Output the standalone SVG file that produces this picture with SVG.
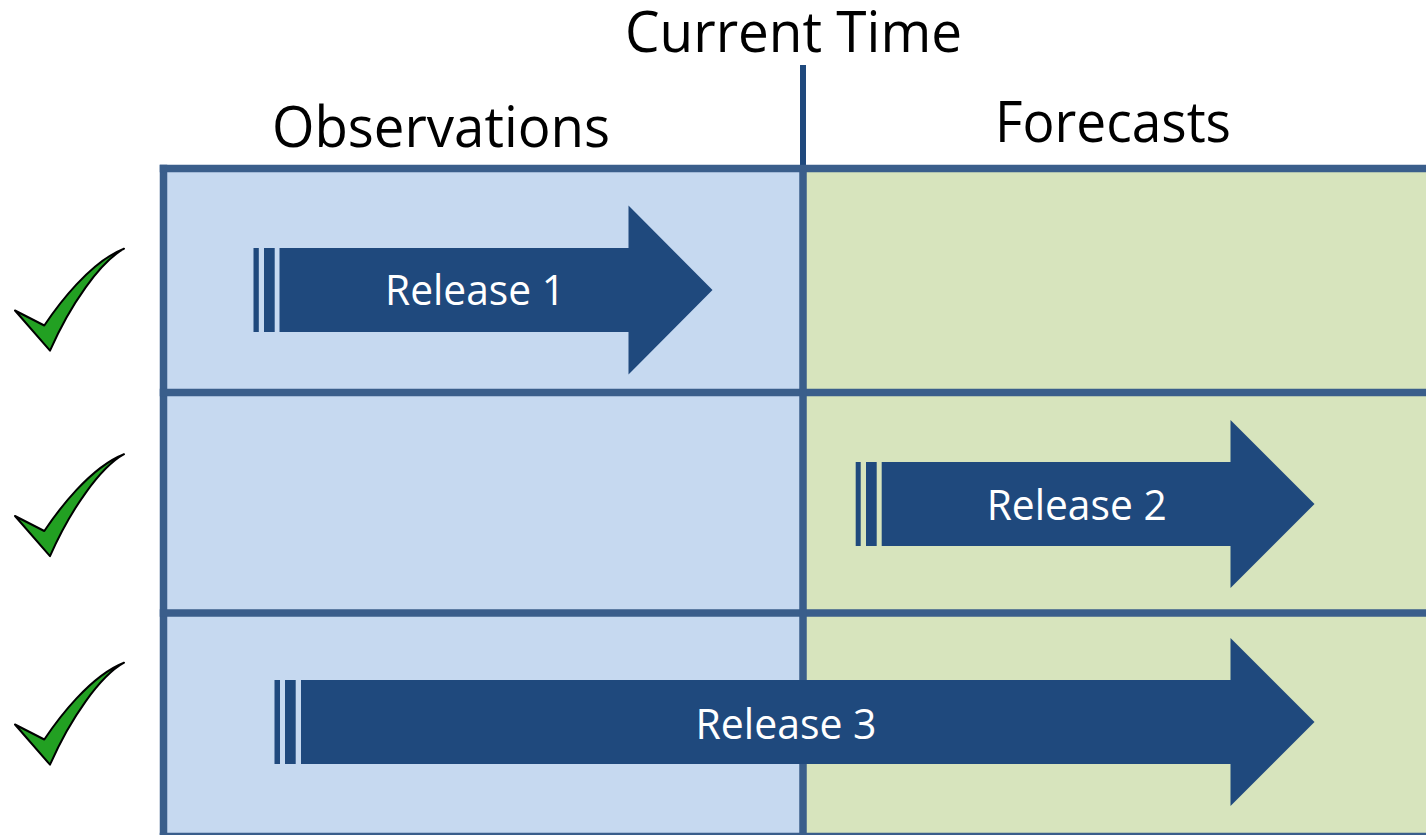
<svg xmlns="http://www.w3.org/2000/svg" xmlns:xlink="http://www.w3.org/1999/xlink" width="1426" height="835" viewBox="0 0 1426 835">
  <style>
    .hdr { font-family: "Open Sans", "Noto Sans", "Liberation Sans", sans-serif; font-size: 57px; fill: #000000; }
    .lbl { font-family: "Open Sans", "Noto Sans", "Liberation Sans", sans-serif; font-size: 42px; fill: #ffffff; text-anchor: middle; }
    .grid { stroke: #3A5E8B; stroke-width: 7.5; fill: none; }
    .arrow { fill: #1F497D; }
    .check { fill: #22A022; stroke: #000000; stroke-width: 2; stroke-linejoin: round; }
  </style>
  <defs>
    <path id="checkmark" class="check" d="M15,310.5 L44.3,325.5 C58,305 90,262 124,248.7 C100,262 70,305 50,350.7 Z"/>
  </defs>
  <rect x="0" y="0" width="1426" height="835" fill="#ffffff"/>

  <g id="panel-observations">
    <rect x="163.5" y="168.5" width="639.5" height="668" fill="#C6D9F0"/>
  </g>
  <g id="panel-forecasts">
    <rect x="803" y="168.5" width="630" height="668" fill="#D7E4BD"/>
  </g>

  <g id="connectors">
    <line x1="803" y1="65" x2="803" y2="168.5" stroke="#1F497D" stroke-width="6"/>
    <line class="grid" x1="163.5" y1="164.75" x2="163.5" y2="840"/>
    <line class="grid" x1="159.75" y1="168.5" x2="1430" y2="168.5"/>
    <line class="grid" x1="159.75" y1="392.5" x2="1430" y2="392.5"/>
    <line class="grid" x1="159.75" y1="613" x2="1430" y2="613"/>
    <line class="grid" x1="159.75" y1="836.5" x2="1430" y2="836.5"/>
    <line class="grid" x1="803" y1="168.5" x2="803" y2="840" stroke-width="7"/>
  </g>

  <g id="title-current-time">
    <text class="hdr" x="625" y="52" textLength="337" lengthAdjust="spacingAndGlyphs">Current Time</text>
  </g>
  <g id="title-observations">
    <text class="hdr" x="272" y="147" textLength="338" lengthAdjust="spacingAndGlyphs">Observations</text>
  </g>
  <g id="title-forecasts">
    <text class="hdr" x="995" y="142" textLength="236" lengthAdjust="spacingAndGlyphs">Forecasts</text>
  </g>

  <g id="check-1"><use xlink:href="#checkmark" href="#checkmark"/></g>
  <g id="check-2"><use xlink:href="#checkmark" href="#checkmark" transform="translate(0,205.5)"/></g>
  <g id="check-3"><use xlink:href="#checkmark" href="#checkmark" transform="translate(0,414)"/></g>

  <g id="release-1">
    <rect class="arrow" x="253.5" y="248" width="5.3" height="84"/>
    <rect class="arrow" x="264" y="248" width="10.7" height="84"/>
    <path class="arrow" d="M279.5,248 H628.5 V205.5 L712.5,290 L628.5,374.5 V332 H279.5 Z"/>
    <text class="lbl" x="475" y="305" textLength="180" lengthAdjust="spacingAndGlyphs">Release 1</text>
  </g>
  <g id="release-2">
    <rect class="arrow" x="855.7" y="462" width="5" height="84"/>
    <rect class="arrow" x="866" y="462" width="10.7" height="84"/>
    <path class="arrow" d="M881.7,462 H1230.5 V420 L1314.5,504 L1230.5,588 V546 H881.7 Z"/>
    <text class="lbl" x="1076.7" y="520" textLength="180" lengthAdjust="spacingAndGlyphs">Release 2</text>
  </g>
  <g id="release-3">
    <rect class="arrow" x="274.5" y="680" width="5.5" height="84"/>
    <rect class="arrow" x="285" y="680" width="10.7" height="84"/>
    <path class="arrow" d="M301,680 H1230.5 V638 L1314.5,722 L1230.5,806 V764 H301 Z"/>
    <text class="lbl" x="786" y="739" textLength="181" lengthAdjust="spacingAndGlyphs">Release 3</text>
  </g>
</svg>
